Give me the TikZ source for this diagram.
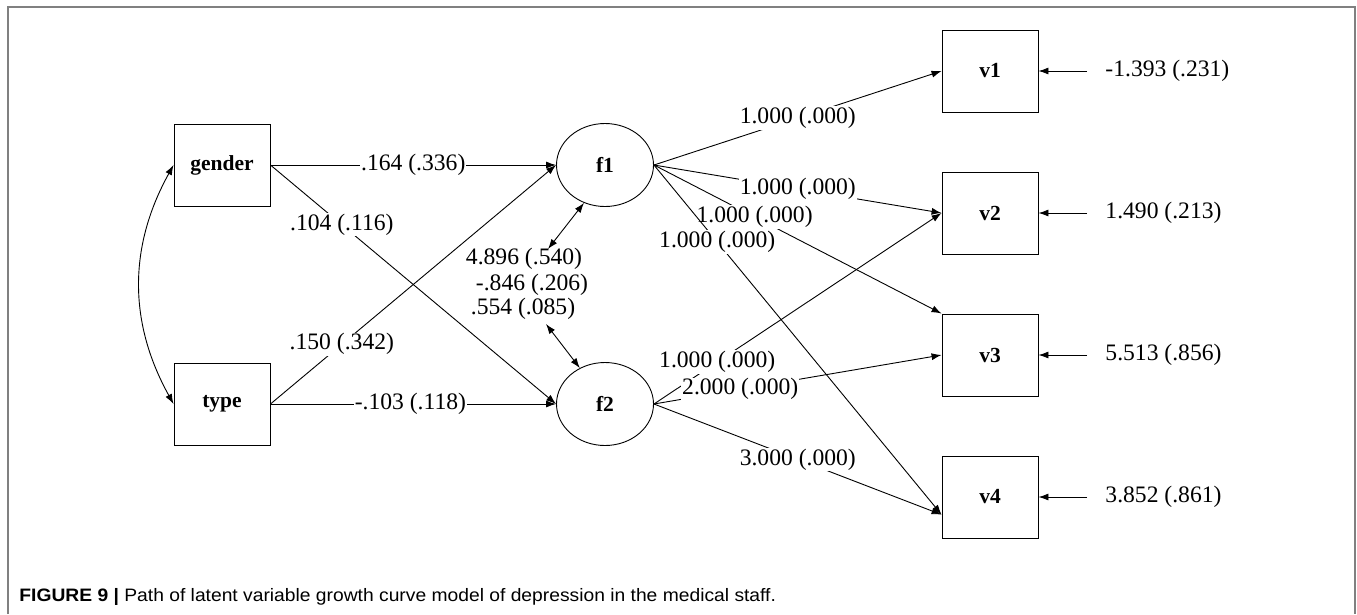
\documentclass[tikz,border=0pt]{standalone}
\usepackage{fontspec}
\setmainfont{Liberation Serif}
\setsansfont{Liberation Sans}
\usetikzlibrary{shapes.geometric, arrows.meta}

\begin{document}
\begin{tikzpicture}
	[
	x=1pt, y=-1pt, line width=0.9pt, >={Latex[length=10pt, width=7pt]},
	%Voreinstellungen fuer Knoten und Beschriftungen
	obs/.style={draw, minimum width=96pt, minimum height=82pt, font=\fontsize{21.5}{24}\selectfont\bfseries},
	lat/.style={draw, ellipse, inner sep=0pt, minimum width=97pt, minimum height=83pt, font=\fontsize{21.5}{24}\selectfont\bfseries},
	lab/.style={fill=white, inner sep=1pt, font=\fontsize{23.6}{26}\selectfont},
	res/.style={anchor=west, inner xsep=18pt, inner ysep=0pt, font=\fontsize{23.6}{26}\selectfont}
	]
	\useasboundingbox (0,0) rectangle (1357,614);
	%Rahmen
	\draw[gray, line width=2pt] (8,614) -- (8,7) -- (1355,7) -- (1355,614);
	%Variablen
	\node[obs] (gender) at (222,165) {gender};
	\node[obs] (type) at (222,404) {type};
	\node[lat] (f1) at (605,165) {f1};
	\node[lat] (f2) at (605,404) {f2};
	\node[obs] (v1) at (990,71) {v1};
	\node[obs] (v2) at (990,213) {v2};
	\node[obs] (v3) at (990,355) {v3};
	\node[obs] (v4) at (990,497) {v4};
	%Residuen
	\node[res] (e1) at (1087,71) {-1.393 (.231)};
	\node[res] (e2) at (1087,213) {1.490 (.213)};
	\node[res] (e3) at (1087,355) {5.513 (.856)};
	\node[res] (e4) at (1087,497) {3.852 (.861)};
	\draw[->] (e1.west) -- (v1.east);
	\draw[->] (e2.west) -- (v2.east);
	\draw[->] (e3.west) -- (v3.east);
	\draw[->] (e4.west) -- (v4.east);
	%Kovarianzen
	\draw[<->] (gender.west) to[bend right=29] (type.west);
	\coordinate (c1) at (548,249);
	\coordinate (c2) at (546,324);
	\draw[<->] (c1) -- (f1.241);
	\draw[<->] (c2) -- (f2.125);
	\node[font=\fontsize{23.6}{26}\selectfont, inner sep=0pt] (cv1) at (524,259) {4.896 (.540)};
	\node[font=\fontsize{23.6}{26}\selectfont, inner sep=0pt] (cv2) at (532,285) {-.846 (.206)};
	\node[font=\fontsize{23.6}{26}\selectfont, inner sep=0pt] (cv3) at (523,309) {.554 (.085)};
	%Pfade
	\draw[->] (gender.east) -- (f1.west) node[lab, pos=0.5] {.164 (.336)};
	\draw[->] (gender.east) -- (f2.west) node[lab, pos=0.25] {.104 (.116)};
	\draw[->] (type.east) -- (f1.west) node[lab, pos=0.25] {.150 (.342)};
	\draw[->] (type.east) -- (f2.west) node[lab, pos=0.49] {-.103 (.118)};
	\draw[->] (f1.east) -- (v1.west) node[lab, pos=0.5] {1.000 (.000)};
	\draw[->] (f1.east) -- (v2.west) node[lab, pos=0.5] {1.000 (.000)};
	\draw[->] (f1.east) -- (v3.north west) node[lab, pos=0.35] {1.000 (.000)};
	\draw[->] (f1.east) -- (v4.200) node[lab, pos=0.22] {1.000 (.000)};
	\draw[->] (f2.east) -- (v2.west) node[lab, pos=0.22] {1.000 (.000)};
	\draw[->] (f2.east) -- (v3.west) node[lab, pos=0.30] {2.000 (.000)};
	\draw[->] (f2.east) -- (v4.200) node[lab, pos=0.5] {3.000 (.000)};
	%Bildunterschrift
	\node[anchor=west, inner sep=0pt, font=\sffamily\fontsize{18}{21}\selectfont] (caption) at (19,597)
		{\scalebox{1.07}[1]{\textbf{FIGURE 9 |} Path of latent variable growth curve model of depression in the medical staff.}};
\end{tikzpicture}
\end{document}
